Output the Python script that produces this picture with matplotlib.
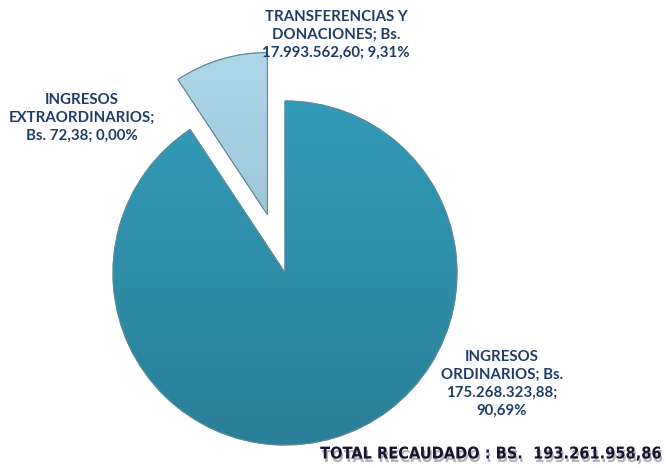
import matplotlib
matplotlib.use("Agg")
import matplotlib.pyplot as plt
import matplotlib.patheffects as pe
import numpy as np

# data
categories = ["INGRESOS ORDINARIOS", "INGRESOS EXTRAORDINARIOS", "TRANSFERENCIAS Y DONACIONES"]
amounts = [175268323.88, 72.38, 17993562.60]
percents = [90.69, 0.00, 9.31]
total_label = "TOTAL RECAUDADO : BS.  193.261.958,86"

TEXT_COLOR = "#1f3d66"
TOP_COLORS = ["#329bb7", "#2e8fab", "#aed8ea"]
BOTTOM_COLORS = ["#2a8098", "#2a8098", "#8fb6c6"]


def es_num(v):
    s = f"{v:,.2f}"
    return s.replace(",", "X").replace(".", ",").replace("X", ".")


def label_lines(name, amount, pct):
    return name, f"Bs. {es_num(amount)}", f"{pct:.2f}".replace(".", ",") + "%"


fig = plt.figure(figsize=(6.66, 4.68), dpi=100)
ax = fig.add_axes([0, 0, 1, 1])

wedges, _ = ax.pie(amounts, center=(285, 195), radius=172, startangle=90,
                   counterclock=False, explode=[0, 0, 61],
                   colors=TOP_COLORS, frame=True,
                   wedgeprops=dict(linewidth=0.8, edgecolor="#6f9aa8"))
wedges[2].set_radius(162)
ax.set_aspect("equal")
ax.axis("off")

# vertical gradient inside each wedge
for w, c1, c2 in zip(wedges, TOP_COLORS, BOTTOM_COLORS):
    if w.theta2 - w.theta1 < 0.5:
        continue
    cx, cy = w.center
    r = w.r
    a = np.array(matplotlib.colors.to_rgb(c1))
    b = np.array(matplotlib.colors.to_rgb(c2))
    t = np.linspace(0, 1, 256)[:, None]
    grad = (a * (1 - t) + b * t)[:, None, :]
    im = ax.imshow(grad, extent=(cx - r, cx + r, cy - r, cy + r),
                   origin="upper", aspect="auto", zorder=w.get_zorder() + 0.1)
    im.set_clip_path(w)
    ax.add_patch(matplotlib.patches.Wedge(w.center, r, w.theta1, w.theta2,
                                          facecolor="none", edgecolor="#5d8a99",
                                          linewidth=0.8, zorder=w.get_zorder() + 0.2))
ax.set_xlim(0, 666)
ax.set_ylim(0, 468)

font = ["Lato", "DejaVu Sans"]
txt = dict(color=TEXT_COLOR, fontsize=10.8, fontweight="bold", family=font,
           ha="center", va="center", linespacing=1.35)

n0, a0, p0 = label_lines(categories[0], amounts[0], percents[0])
ax.text(502, 84, "INGRESOS\nORDINARIOS; " + a0.split(" ")[0] + "\n"
        + a0.split(" ")[1] + ";\n" + p0, **txt)

n1, a1, p1 = label_lines(categories[1], amounts[1], percents[1])
ax.text(82, 350, "INGRESOS\nEXTRAORDINARIOS;\n" + a1 + "; " + p1, **txt)

n2, a2, p2 = label_lines(categories[2], amounts[2], percents[2])
ax.text(336, 433, "TRANSFERENCIAS Y\nDONACIONES; " + a2.split(" ")[0] + "\n"
        + a2.split(" ")[1] + "; " + p2, **txt)

ax.text(663, 14, total_label, ha="right", va="center", fontsize=11.7,
        fontweight="bold", color="#151530",
        family=["DejaVu Sans Condensed", "DejaVu Sans"], fontstretch="condensed",
        path_effects=[pe.withSimplePatchShadow(offset=(1, -2.5),
                                               shadow_rgbFace="#777777", alpha=0.55)])

fig.savefig("out.png", dpi=100)
